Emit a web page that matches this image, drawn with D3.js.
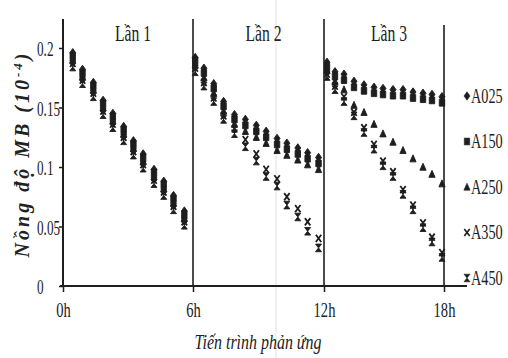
<!DOCTYPE html>
<html>
<head>
<meta charset="utf-8">
<script src="https://cdn.jsdelivr.net/npm/d3@7"></script>
<style>
  body { margin: 0; background: #fff; }
  svg { display: block; }
  text { font-family: "Liberation Serif", "Times New Roman", serif; fill: #222; }
</style>
</head>
<body>
<div id="chart"></div>
<script>
// Data
const runs = ['Lần 1', 'Lần 2', 'Lần 3'];
const xTicks = [0, 6, 12, 18];
const xTickLabels = ['0h', '6h', '12h', '18h'];
const yTicks = [0, 0.05, 0.1, 0.15, 0.2];
const yTickLabels = ['0', '0.05', '0.1', '0.15', '0.2'];
const seriesNames = ['A025', 'A150', 'A250', 'A350', 'A450'];

// sampling times (hours), run 1 / run 2 / run 3
const hours = [
  0.45, 0.9, 1.4, 1.85, 2.3, 2.8, 3.25, 3.7, 4.2, 4.65, 5.1, 5.6,
  6.1, 6.5, 6.95, 7.4, 7.9, 8.4, 8.9, 9.35, 9.85, 10.3, 10.8, 11.25, 11.75,
  12.15, 12.55, 13.0, 13.5, 14.0, 14.5, 14.95, 15.45, 15.95, 16.45, 16.95, 17.4, 17.9
];

const a025 = [
  0.196, 0.182, 0.171, 0.156, 0.145, 0.134, 0.122, 0.111, 0.098, 0.088, 0.076, 0.063,
  0.192, 0.183, 0.170, 0.155, 0.144, 0.140, 0.135, 0.130, 0.124, 0.120, 0.116, 0.112, 0.108,
  0.188, 0.180, 0.178, 0.172, 0.169, 0.167, 0.166, 0.165, 0.165, 0.163, 0.162, 0.161, 0.159
];
const a150 = [
  0.193, 0.179, 0.168, 0.153, 0.142, 0.131, 0.119, 0.108, 0.095, 0.085, 0.073, 0.060,
  0.189, 0.179, 0.166, 0.151, 0.140, 0.135, 0.130, 0.125, 0.119, 0.115, 0.111, 0.107, 0.103,
  0.184, 0.176, 0.173, 0.167, 0.164, 0.162, 0.161, 0.160, 0.160, 0.158, 0.157, 0.156, 0.154
];
const a250 = [
  0.190, 0.176, 0.165, 0.150, 0.139, 0.128, 0.116, 0.105, 0.092, 0.082, 0.070, 0.057,
  0.186, 0.175, 0.162, 0.147, 0.136, 0.130, 0.125, 0.120, 0.114, 0.110, 0.106, 0.102, 0.098,
  0.181, 0.172, 0.165, 0.152, 0.146, 0.136, 0.128, 0.121, 0.114, 0.107, 0.100, 0.094, 0.086
];
const a350 = [
  0.187, 0.173, 0.162, 0.147, 0.136, 0.125, 0.113, 0.102, 0.089, 0.079, 0.067, 0.054,
  0.183, 0.171, 0.158, 0.143, 0.132, 0.123, 0.111, 0.098, 0.090, 0.075, 0.065, 0.054, 0.040,
  0.178, 0.168, 0.159, 0.146, 0.133, 0.119, 0.105, 0.096, 0.081, 0.068, 0.053, 0.041, 0.028
];
const a450 = [
  0.184, 0.170, 0.159, 0.144, 0.133, 0.122, 0.110, 0.099, 0.086, 0.076, 0.064, 0.051,
  0.180, 0.168, 0.155, 0.140, 0.128, 0.117, 0.105, 0.092, 0.084, 0.068, 0.058, 0.046, 0.032,
  0.176, 0.165, 0.155, 0.143, 0.129, 0.115, 0.101, 0.092, 0.077, 0.064, 0.049, 0.037, 0.024
];
const seriesValues = [a025, a150, a250, a350, a450];

// marker shapes: diamond, square, triangle, cross, hourglass
const shapes = [
  'M0,-4.2L3,0L0,4.2L-3,0Z',
  'M-2.7,-3.4H2.7V3.4H-2.7Z',
  'M0,-3.8L3.1,3.2H-3.1Z',
  'M-2.7,-3.6L2.7,3.6M2.7,-3.6L-2.7,3.6',
  'M-3,-3.8H3L-3,3.8H3Z'
];

const W = 508, H = 358;
const ink = '#1e1e1e';

const svg = d3.select('#chart')
  .append('svg')
  .attr('width', W)
  .attr('height', H);

svg.append('rect').attr('width', W).attr('height', H).attr('fill', '#fff');

// scanned page fold
svg.append('line')
  .attr('x1', 276).attr('x2', 276).attr('y1', 0).attr('y2', H)
  .attr('stroke', '#e2e2e2').attr('stroke-width', 1);

// Scales (the scanned axis is not quite uniform, so piecewise)
const x = d3.scaleLinear().domain(xTicks).range([63, 193, 324, 444]);
const y = d3.scaleLinear().domain([0, 0.2]).range([286, 48]);

// narrow the glyphs horizontally like the condensed face in the scan
function squeeze(sel, k) {
  sel.each(function () {
    const t = d3.select(this);
    const x0 = +t.attr('x') || 0;
    t.attr('x', x0 / k).attr('transform', `scale(${k},1)`);
  });
}

// Axes
const xAxis = d3.axisBottom(x)
  .tickValues(xTicks)
  .tickFormat((d, i) => xTickLabels[i])
  .tickSize(6);

const gx = svg.append('g')
  .attr('transform', `translate(0, ${y(0)})`)
  .call(xAxis);
gx.select('.domain').remove();
gx.selectAll('.tick line').attr('stroke', ink).attr('stroke-width', 1.5);
gx.selectAll('.tick text')
  .attr('y', 15)
  .attr('font-size', 22)
  .attr('fill', ink)
  .call(squeeze, 0.66);

const yAxis = d3.axisLeft(y)
  .tickValues(yTicks)
  .tickFormat((d, i) => yTickLabels[i])
  .tickSize(4);

const gy = svg.append('g')
  .attr('transform', `translate(${x(0)}, 0)`)
  .call(yAxis);
gy.select('.domain').remove();
gy.selectAll('.tick line').attr('stroke', ink).attr('stroke-width', 1.5);
gy.selectAll('.tick text')
  .attr('x', -26)
  .attr('dy', '0.36em')
  .attr('text-anchor', 'start')
  .attr('font-size', 22)
  .attr('fill', ink)
  .call(squeeze, 0.6);

// axis lines and run dividers
svg.append('line')
  .attr('x1', 60).attr('x2', 467).attr('y1', y(0)).attr('y2', y(0))
  .attr('stroke', ink).attr('stroke-width', 2);

svg.selectAll('.divider')
  .data(xTicks)
  .enter()
  .append('line')
  .attr('class', 'divider')
  .attr('x1', d => x(d)).attr('x2', d => x(d))
  .attr('y1', (d, i) => i === 3 ? 25 : 19)
  .attr('y2', y(0))
  .attr('stroke', ink)
  .attr('stroke-width', (d, i) => i === 0 ? 2 : 1.6);

// run titles
svg.selectAll('.run')
  .data(runs)
  .enter()
  .append('text')
  .attr('class', 'run')
  .attr('x', (d, i) => x((xTicks[i] + xTicks[i + 1]) / 2) + 5)
  .attr('y', 41)
  .attr('text-anchor', 'middle')
  .attr('font-size', 23)
  .text(d => d)
  .call(squeeze, 0.68);

// markers
seriesValues.forEach((vals, s) => {
  const g = svg.append('g').attr('class', 'series-' + seriesNames[s]);
  g.selectAll('path')
    .data(vals)
    .enter()
    .append('path')
    .attr('transform', (d, i) => `translate(${x(hours[i])}, ${y(d)})`)
    .attr('d', shapes[s])
    .attr('fill', s === 3 ? 'none' : ink)
    .attr('stroke', ink)
    .attr('stroke-width', s === 3 ? 1.8 : 0.9);
});

// legend
const legend = svg.append('g').attr('class', 'legend');
seriesNames.forEach((name, i) => {
  const ly = 96 + i * 45.5;
  legend.append('path')
    .attr('transform', `translate(467, ${ly})`)
    .attr('d', shapes[i])
    .attr('fill', i === 3 ? 'none' : ink)
    .attr('stroke', ink)
    .attr('stroke-width', i === 3 ? 1.6 : 0.6);
  legend.append('text')
    .attr('x', 471)
    .attr('y', ly + 7)
    .attr('font-size', 21)
    .text(name)
    .call(squeeze, 0.68);
});

// axis titles
svg.append('text')
  .attr('x', 258)
  .attr('y', 349)
  .attr('text-anchor', 'middle')
  .attr('font-size', 21)
  .attr('font-style', 'italic')
  .text('Tiến trình phản ứng')
  .call(squeeze, 0.76);

const yTitle = svg.append('text')
  .attr('transform', 'translate(29, 154) rotate(-90)')
  .attr('text-anchor', 'middle')
  .attr('font-size', 20)
  .attr('font-style', 'italic')
  .attr('font-weight', 'bold')
  .attr('letter-spacing', 3);
yTitle.append('tspan').text('Nồng độ MB (10');
yTitle.append('tspan').attr('dy', -7).attr('font-size', 13).text('-4');
yTitle.append('tspan').attr('dy', 7).text(')');
</script>
</body>
</html>
